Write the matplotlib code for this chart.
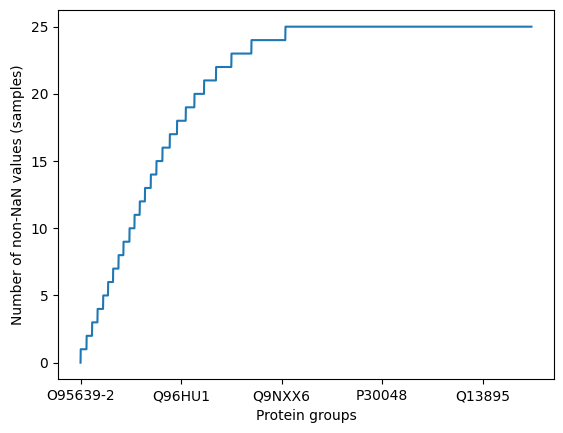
import matplotlib
matplotlib.use('Agg')
import matplotlib.pyplot as plt
import numpy as np

# number of protein groups having n non-NaN values (n = 0..25)
n_values = np.arange(0, 26)
n_proteins = [1, 59, 55, 54, 56, 49, 50, 54, 49, 60, 50, 52, 52, 58,
              56, 60, 73, 72, 87, 86, 96, 119, 153, 199, 338, 2449]

tick_pos = [0, 1000, 2000, 3000, 4000]
tick_labels = ['O95639-2', 'Q96HU1', 'Q9NXX6', 'P30048', 'Q13895']

values = np.repeat(n_values, n_proteins)

fig = plt.figure(figsize=(5.63, 4.33), dpi=100)
ax = fig.add_axes([0.103, 0.1236, 0.881, 0.8536])

ax.plot(np.arange(len(values)), values, color='#1f77b4')
ax.set_xticks(tick_pos)
ax.set_xticklabels(tick_labels)
ax.set_xlabel('Protein groups')
ax.set_ylabel('Number of non-NaN values (samples)')

fig.savefig('out.png', dpi=100)
